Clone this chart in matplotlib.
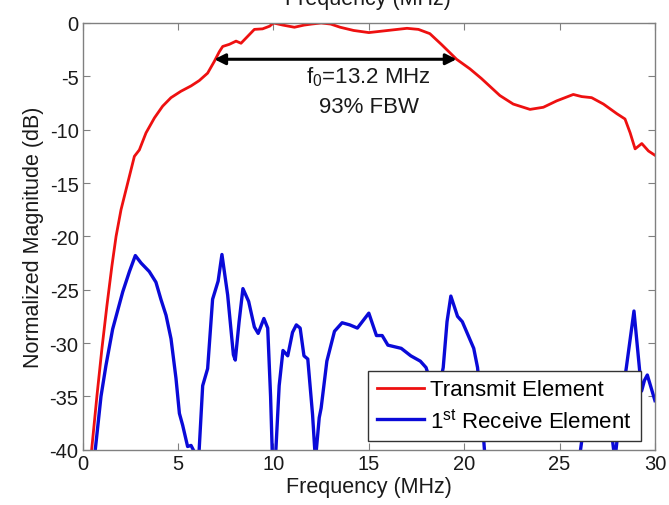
import numpy as np
import matplotlib
matplotlib.use('Agg')
import matplotlib.pyplot as plt

plt.rcParams['font.family'] = ['Liberation Sans', 'DejaVu Sans']
plt.rcParams['axes.unicode_minus'] = False

# Transmit element response
freq_tx = [0.47, 0.75, 1.01, 1.27, 1.53, 1.75, 2.01, 2.36, 2.71, 2.97, 3.32, 3.76,
           4.19, 4.63, 5.15, 5.68, 6.11, 6.55, 6.9, 7.16, 7.34, 7.69, 8.04, 8.3,
           8.65, 9.0, 9.43, 9.8, 10.0, 10.5, 11.1, 11.6, 12.0, 12.5, 13.0, 13.5,
           14.2, 15.0, 16.0, 17.0, 17.6, 18.2, 18.8, 19.2, 19.6, 20.3, 20.9, 21.87,
           22.57, 23.45, 24.15, 24.85, 25.72, 26.16, 26.68, 27.3, 28.0, 28.43, 28.7,
           28.96, 29.31, 29.66, 30.0]
mag_tx = [-40, -34.9, -30.5, -26.5, -22.8, -20.0, -17.5, -15.0, -12.5, -11.9, -10.3,
          -8.9, -7.8, -7.0, -6.4, -5.9, -5.4, -4.7, -3.6, -2.7, -2.2, -2.0, -1.7,
          -1.9, -1.25, -0.6, -0.55, -0.3, 0.0, -0.2, -0.4, -0.2, -0.1, 0.0, -0.1,
          -0.4, -0.7, -0.9, -0.7, -0.5, -0.6, -1.0, -2.0, -2.7, -3.4, -4.3, -5.2,
          -6.8, -7.6, -8.1, -7.9, -7.3, -6.7, -6.9, -7.0, -7.6, -8.5, -9.0, -10.3,
          -11.8, -11.3, -12.0, -12.4]

# 1st receive element response
freq_rx = [0.66, 0.96, 1.22, 1.57, 2.1, 2.45, 2.76, 3.06, 3.49, 3.84, 4.1, 4.37,
           4.63, 4.89, 5.07, 5.24, 5.5, 5.68, 5.85, 6.1, 6.29, 6.55, 6.81, 7.1,
           7.3, 7.6, 7.9, 8.0, 8.2, 8.4, 8.7, 9.0, 9.2, 9.5, 9.7, 9.85, 9.95, 10.1,
           10.3, 10.5, 10.75, 11.0, 11.2, 11.4, 11.6, 11.8, 12.05, 12.2, 12.4, 12.5,
           12.8, 13.2, 13.6, 14.0, 14.4, 15.0, 15.4, 15.7, 16.0, 16.7, 17.2, 17.7,
           18.0, 18.3, 18.6, 18.9, 19.1, 19.3, 19.65, 19.9, 20.5, 20.7, 20.9, 21.1,
           21.5, 25.9, 26.1, 26.4, 26.8, 27.2, 27.7, 27.9, 28.2, 28.5, 28.9, 29.3,
           29.45, 29.6, 30.0]
mag_rx = [-40, -35.0, -32.1, -28.7, -25.2, -23.3, -21.8, -22.5, -23.3, -24.3, -25.9,
          -27.4, -29.6, -33.3, -36.6, -37.7, -39.7, -39.6, -40.2, -40.2, -34.0,
          -32.4, -25.9, -24.2, -21.7, -25.5, -31.1, -31.6, -28.0, -24.9, -26.1,
          -28.5, -29.1, -27.7, -28.6, -35, -41, -41, -34, -30.7, -31.2, -29.0,
          -28.3, -28.6, -31.2, -31.5, -36.7, -41, -37, -36.1, -31.7, -28.9, -28.1,
          -28.3, -28.6, -27.2, -29.3, -29.3, -30.2, -30.5, -31.2, -31.7, -32.3,
          -34, -35, -32.3, -28.0, -25.6, -27.5, -28.0, -30.5, -32.3, -36, -41, -45,
          -45, -40, -36, -34, -35, -38, -41, -36, -32.3, -27.0, -34.5, -33.5,
          -33.0, -35.4]

# bandwidth annotation
f_low, f_high, bw_level = 6.9, 19.6, -3.4

fig = plt.figure(figsize=(6.69, 5.06), dpi=100)
ax = fig.add_axes([0.1236, 0.1093, 0.979 - 0.1236, 0.9526 - 0.1093])

ax.plot(freq_tx, mag_tx, color='#ee1010', lw=2.0, label='Transmit Element')
ax.plot(freq_rx, mag_rx, color='#0a0ad8', lw=2.4,
        label='1$^{\\mathregular{st}}$ Receive Element')

ax.annotate('', xy=(f_low, bw_level), xytext=(f_high, bw_level),
            arrowprops=dict(arrowstyle='<|-|>', color='k', lw=2.2,
                            mutation_scale=16, shrinkA=0, shrinkB=0))
ax.text(15.0, -5.0, 'f$_{\\mathregular{0}}$=13.2 MHz', ha='center', va='center',
        fontsize=16, color='#1a1a1a')
ax.text(15.0, -7.8, '93% FBW', ha='center', va='center', fontsize=16, color='#1a1a1a')

ax.set_xlim(0, 30)
ax.set_ylim(-40, 0)
ax.set_xticks(np.arange(0, 31, 5))
ax.set_yticks(np.arange(-40, 1, 5))
ax.tick_params(direction='in', top=True, right=True, length=5, width=0.8,
               color='#808080', labelsize=14.5, labelcolor='#1a1a1a', pad=3)
for s in ax.spines.values():
    s.set_color('#808080')
    s.set_linewidth(1.0)

ax.set_xlabel('Frequency (MHz)', fontsize=15.5, color='#1a1a1a', labelpad=2)
ax.set_ylabel('Normalized Magnitude (dB)', fontsize=15.5, color='#1a1a1a', labelpad=4)

# cropped copy of the label at the very top, as in the source figure
fig.text(0.55, 1.0 + 1.0 / 506, 'Frequency (MHz)', ha='center', va='center',
         fontsize=15.5, color='#1a1a1a')

leg = ax.legend(loc='lower right', bbox_to_anchor=(0.9755, 0.0204), borderaxespad=0,
                fontsize=16, fancybox=False, framealpha=1, edgecolor='#333333',
                handlelength=2.1, handletextpad=0.3, borderpad=0.4, labelspacing=0.35)
leg.get_frame().set_linewidth(1.0)

fig.savefig('out.png', dpi=100)
